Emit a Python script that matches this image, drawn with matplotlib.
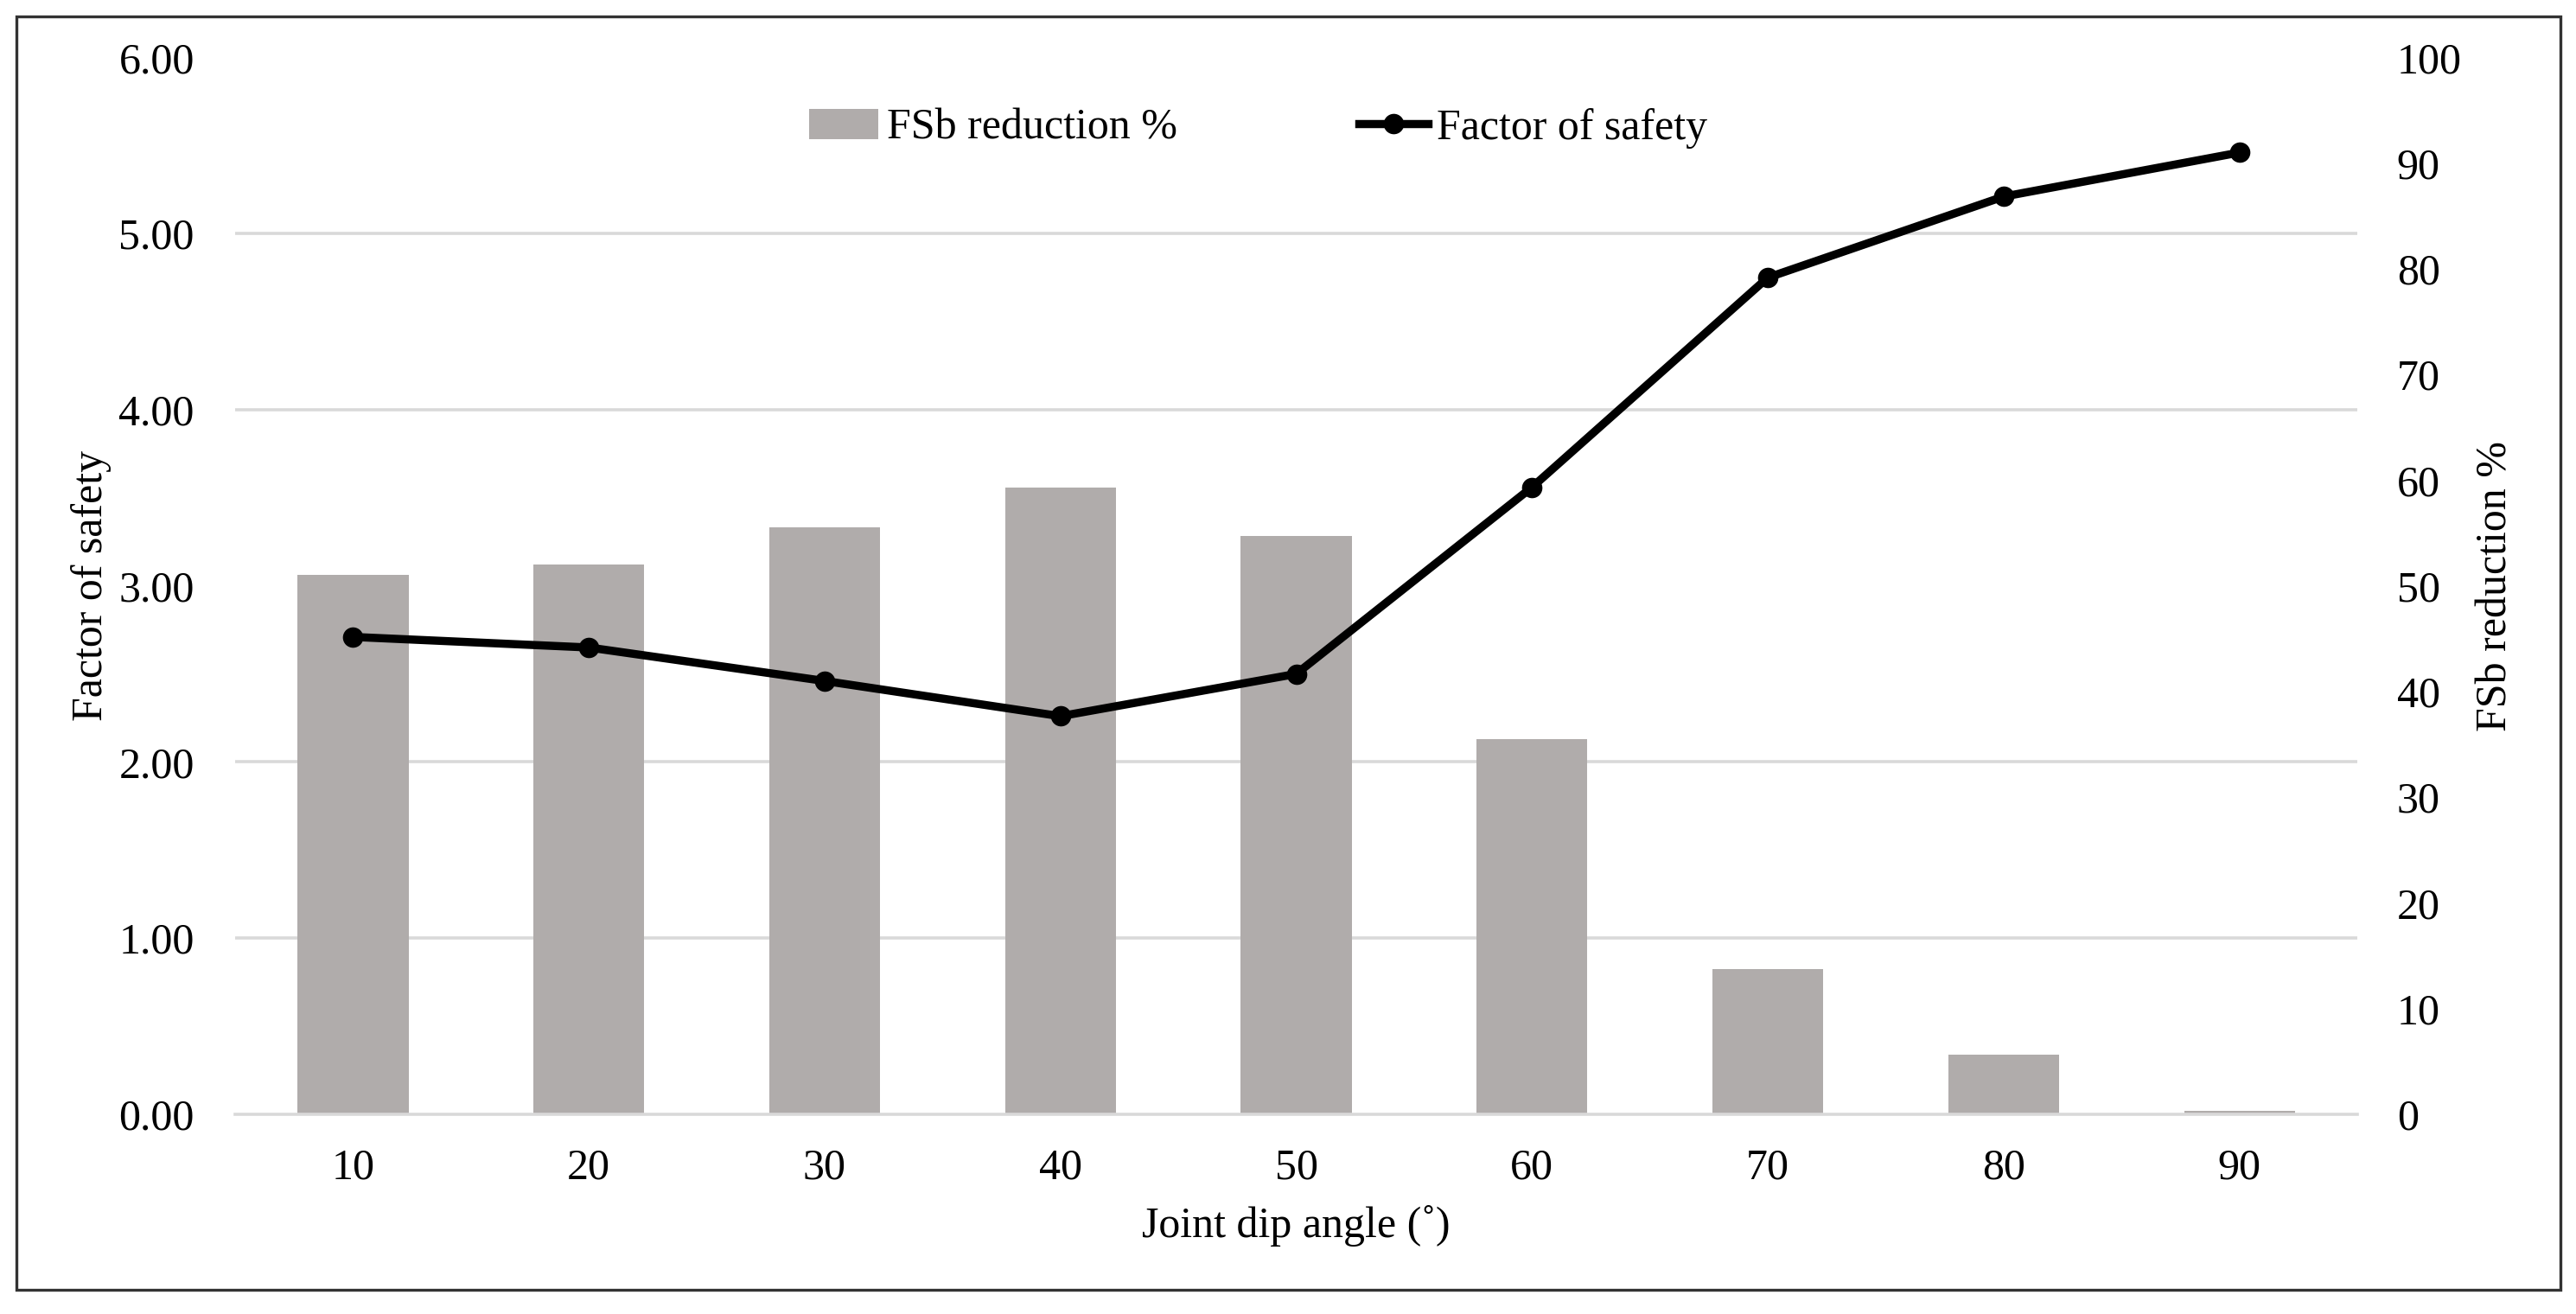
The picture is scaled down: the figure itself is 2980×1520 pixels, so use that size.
import numpy as np
from matplotlib import pyplot as plt
from matplotlib.patches import Rectangle
from matplotlib.ticker import FixedLocator, FormatStrFormatter

angles = ['10', '20', '30', '40', '50', '60', '70', '80', '90']
fs_reduction = [51.0, 52.0, 55.5, 59.3, 54.7, 35.5, 13.7, 5.6, 0.3]
factor_of_safety = [2.71, 2.65, 2.46, 2.26, 2.50, 3.56, 4.75, 5.21, 5.46]

plt.rcParams['font.family'] = ['Liberation Serif', 'DejaVu Serif']
plt.rcParams['font.size'] = 18

def main():
    fig = plt.figure(figsize=(14.9, 7.6), dpi=200)
    ax = fig.add_axes([0.0913, 0.152, 0.8238, 0.8043])
    ax2 = ax.twinx()

    x = np.arange(len(angles))

    # bars on the right axis, behind everything
    bars = ax2.bar(x, fs_reduction, width=0.47, color='#b0acab', label='FSb reduction %', zorder=2)
    ax2.set_ylim(0, 100)
    ax2.set_yticks(np.arange(0, 101, 10))
    ax2.yaxis.set_minor_locator(FixedLocator(np.linspace(0, 100, 7)))
    ax2.grid(which='minor', axis='y', color='#d9d9d9', linewidth=1.3, zorder=0)
    ax2.set_axisbelow(True)
    ax2.tick_params(axis='y', which='both', length=0, pad=16.5)
    ax2.set_ylabel('FSb reduction %', labelpad=6)

    # line on the left axis, on top
    ax.set_zorder(ax2.get_zorder() + 1)
    ax.patch.set_visible(False)
    line, = ax.plot(x, factor_of_safety, color='black', linewidth=3.4, marker='o',
                    markersize=7.5, label='Factor of safety', zorder=5)
    ax.set_ylim(0, 6)
    ax.set_yticks(np.arange(0, 7, 1))
    ax.yaxis.set_major_formatter(FormatStrFormatter('%.2f'))
    ax.tick_params(axis='y', length=0, pad=17)
    ax.set_ylabel('Factor of safety', labelpad=3)

    ax.set_xlim(-0.5, len(angles) - 0.5)
    ax.set_xticks(x)
    ax.set_xticklabels(angles)
    ax.tick_params(axis='x', length=0, pad=14)
    ax.set_xlabel('Joint dip angle (˚)', labelpad=7)

    for a in (ax, ax2):
        for s in ['top', 'left', 'right']:
            a.spines[s].set_visible(False)
    ax.spines['bottom'].set_visible(False)
    ax2.spines['bottom'].set_color('#d9d9d9')
    ax2.spines['bottom'].set_linewidth(1.3)

    ax.legend([bars, line], ['FSb reduction %', 'Factor of safety'], ncol=2,
              loc='center', bbox_to_anchor=(0.4886, 0.9026), bbox_transform=fig.transFigure,
              frameon=False, handlelength=1.6, handletextpad=0.2, columnspacing=4.2)

    fig.add_artist(Rectangle((0.0064, 0.0184), 0.9876, 0.9691, transform=fig.transFigure,
                             fill=False, edgecolor='#333333', linewidth=1.2))

    fig.savefig('out.png', dpi=200)

if __name__ == "__main__":
    main()
